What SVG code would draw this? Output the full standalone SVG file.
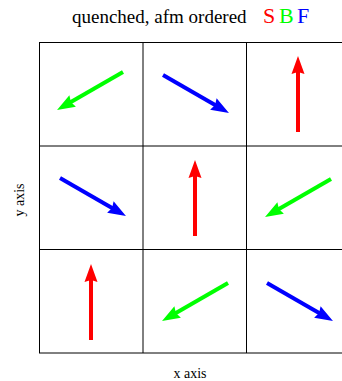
<svg xmlns="http://www.w3.org/2000/svg" width="342" height="381" viewBox="0 0 342 381">
<style>
text{font-family:"Liberation Serif","Times New Roman",serif;fill:#000}
.grid{fill:none;stroke:#000;stroke-width:1}
.a{stroke-width:4;fill:none}
.r{stroke:#ff0000}.g{stroke:#00ff00}.b{stroke:#0000ff}
</style>
<defs>
<marker id="mr" markerUnits="userSpaceOnUse" markerWidth="18" markerHeight="13" refX="8" refY="6.5" orient="auto" overflow="visible"><path d="M0,0 L18,6.5 L0,13 L2,6.5 z" fill="#ff0000"/></marker>
<marker id="mg" markerUnits="userSpaceOnUse" markerWidth="18" markerHeight="13" refX="8" refY="6.5" orient="auto" overflow="visible"><path d="M0,0 L18,6.5 L0,13 L2,6.5 z" fill="#00ff00"/></marker>
<marker id="mb" markerUnits="userSpaceOnUse" markerWidth="18" markerHeight="13" refX="8" refY="6.5" orient="auto" overflow="visible"><path d="M0,0 L18,6.5 L0,13 L2,6.5 z" fill="#0000ff"/></marker>
</defs>
<rect width="342" height="381" fill="#fff"/>
<g id="title">
<text x="72" y="23" font-size="19">quenched, afm ordered</text>
<text x="263" y="23" font-size="22" style="fill:#ff0000">S</text>
<text x="279" y="23" font-size="22" style="fill:#00ff00">B</text>
<text x="297" y="23" font-size="22" style="fill:#0000ff">F</text>
</g>
<g id="grid">
<rect class="grid" x="39.5" y="42.5" width="311" height="310.5"/>
<line class="grid" x1="143" y1="42.5" x2="143" y2="353"/>
<line class="grid" x1="246.5" y1="42.5" x2="246.5" y2="353"/>
<line class="grid" x1="39.5" y1="146" x2="350.5" y2="146"/>
<line class="grid" x1="39.5" y1="249.5" x2="350.5" y2="249.5"/>
</g>
<g id="arrows">
<line class="a g" x1="123" y1="72" x2="65.7" y2="105" marker-end="url(#mg)"/>
<line class="a b" x1="163" y1="75" x2="220.3" y2="108" marker-end="url(#mb)"/>
<line class="a r" x1="298" y1="132" x2="298" y2="66" marker-end="url(#mr)"/>
<line class="a b" x1="60" y1="178" x2="117.3" y2="211" marker-end="url(#mb)"/>
<line class="a r" x1="195" y1="236" x2="195" y2="170" marker-end="url(#mr)"/>
<line class="a g" x1="331" y1="179" x2="273.7" y2="212" marker-end="url(#mg)"/>
<line class="a r" x1="91" y1="340" x2="91" y2="274" marker-end="url(#mr)"/>
<line class="a g" x1="228" y1="283" x2="170.7" y2="316" marker-end="url(#mg)"/>
<line class="a b" x1="267" y1="283" x2="324.3" y2="316" marker-end="url(#mb)"/>
</g>
<g id="labels">
<text x="190" y="378" font-size="14" text-anchor="middle">x axis</text>
<text transform="translate(24,200) rotate(-90)" font-size="14" text-anchor="middle">y axis</text>
</g>
</svg>
